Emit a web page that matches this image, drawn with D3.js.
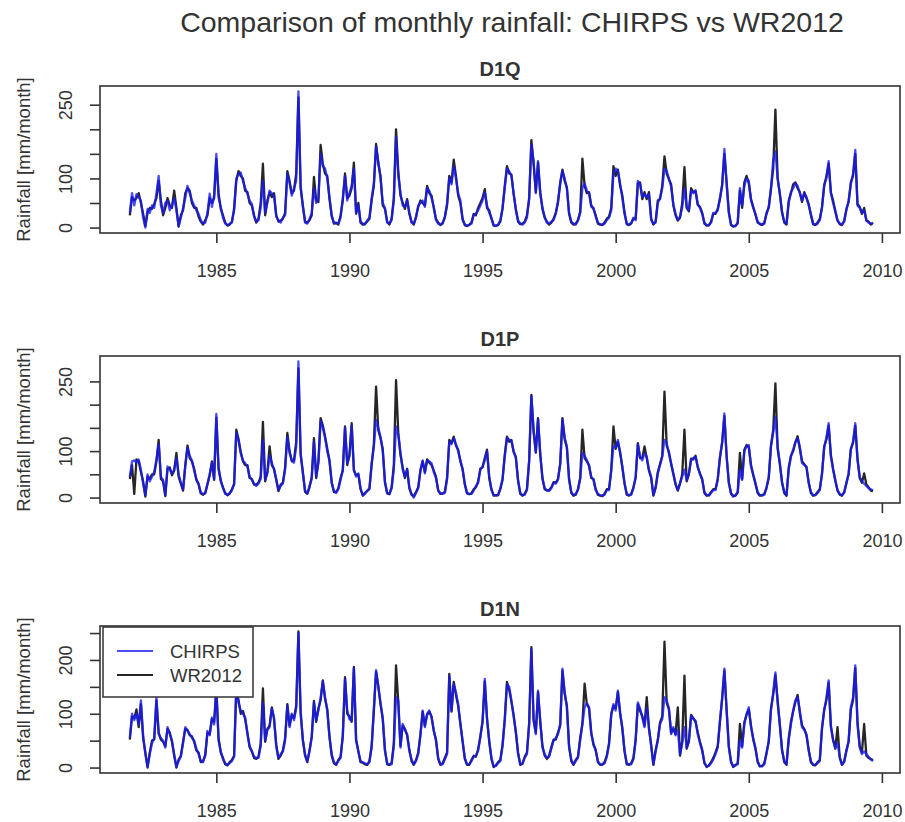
<!DOCTYPE html>
<html>
<head>
<meta charset="utf-8">
<script src="https://cdn.jsdelivr.net/npm/d3@7"></script>
<style>
  body { margin: 0; background: #fff; }
  svg { display: block; }
  text { font-family: "Liberation Sans", Arial, Helvetica, sans-serif; fill: #333; }
</style>
</head>
<body>
<svg id="chart" width="905" height="822"></svg>
<script>
// Monthly series, hydrological years Oct..Sep, Oct 1981 to Sep 2009 (one row per year)
const firstMonth = 1981 + 9 / 12;
const panelNames = ["D1Q", "D1P", "D1N"];
const seriesNames = ["CHIRPS", "WR2012"];
const xTickYears = [1985, 1990, 1995, 2000, 2005, 2010];
const yTickValues = [0, 50, 100, 150, 200, 250];
const yTickLabels = [[0, 100, 250], [0, 100, 250], [0, 100, 200]];

const d1qChirps = [
  30, 70, 45, 68, 62, 55, 20, 0, 38, 30, 45, 40,
  70, 105, 45, 30, 50, 55, 35, 45, 60, 35, 3, 20,
  40, 60, 85, 70, 55, 45, 35, 28, 15, 8, 10, 30,
  69, 42, 65, 150, 60, 42, 20, 8, 5, 8, 10, 40,
  100, 110, 112, 95, 80, 70, 55, 48, 22, 12, 15, 40,
  95, 30, 50, 75, 70, 65, 22, 15, 10, 20, 25, 110,
  90, 65, 80, 95, 277, 85, 42, 10, 8, 18, 30, 80,
  50, 60, 150, 125, 120, 100, 62, 22, 10, 8, 8, 20,
  60, 105, 55, 70, 85, 120, 30, 45, 12, 8, 6, 15,
  20, 60, 90, 165, 135, 100, 50, 40, 10, 8, 15, 55,
  185, 105, 70, 45, 42, 55, 30, 10, 8, 20, 45, 50,
  55, 42, 80, 75, 60, 42, 15, 8, 6, 10, 20, 50,
  100, 88, 125, 100, 70, 55, 15, 6, 4, 5, 8, 25,
  28, 35, 45, 55, 72, 45, 30, 20, 5, 3, 6, 15,
  40, 80, 120, 115, 105, 70, 35, 15, 8, 6, 10, 20,
  60, 170, 135, 70, 135, 68, 40, 22, 10, 8, 12, 15,
  28, 55, 88, 115, 100, 80, 30, 12, 8, 6, 14, 30,
  80, 90, 75, 70, 42, 40, 22, 10, 7, 6, 8, 15,
  20, 35, 110, 120, 115, 90, 60, 28, 8, 6, 10, 20,
  15, 95, 88, 62, 68, 62, 68, 15, 8, 10, 50, 60,
  80, 120, 115, 100, 83, 47, 28, 15, 22, 40, 80, 42,
  35, 75, 70, 76, 48, 40, 28, 10, 5, 4, 10, 30,
  30, 35, 60, 85, 160, 90, 30, 6, 3, 4, 8, 80,
  45, 85, 100, 95, 55, 40, 28, 12, 8, 6, 8, 30,
  40, 80, 137, 155, 100, 69, 29, 12, 8, 50, 72, 80,
  90, 85, 70, 55, 70, 62, 45, 28, 8, 6, 8, 15,
  40, 88, 100, 135, 70, 50, 35, 15, 8, 6, 12, 35,
  55, 88, 110, 158, 45, 40, 30, 35, 15, 10, 8, 8
];
const d1qWr2012 = [
  25, 62, 55, 60, 70, 50, 28, 3, 30, 40, 38, 48,
  60, 95, 55, 25, 40, 60, 45, 40, 75, 40, 2, 25,
  35, 70, 80, 75, 50, 40, 40, 22, 12, 6, 15, 25,
  60, 50, 60, 140, 70, 38, 25, 10, 4, 6, 12, 35,
  95, 115, 105, 100, 75, 72, 50, 45, 25, 10, 18, 50,
  130, 25, 55, 72, 62, 70, 25, 12, 14, 18, 30, 115,
  95, 70, 75, 110, 265, 80, 45, 12, 10, 15, 25, 103,
  55, 52, 168, 130, 110, 105, 58, 25, 8, 10, 6, 25,
  55, 110, 60, 65, 80, 132, 28, 50, 10, 6, 8, 12,
  18, 55, 85, 170, 130, 105, 45, 38, 12, 6, 18, 60,
  200, 115, 65, 50, 38, 58, 28, 12, 6, 22, 42, 55,
  50, 45, 85, 70, 65, 40, 18, 10, 5, 8, 22, 45,
  105, 92, 138, 105, 65, 50, 18, 5, 3, 6, 10, 28,
  25, 40, 50, 60, 78, 40, 35, 18, 4, 4, 5, 12,
  38, 85, 125, 110, 108, 68, 38, 12, 7, 8, 12, 25,
  58, 178, 130, 72, 132, 72, 38, 20, 12, 6, 10, 18,
  30, 50, 92, 118, 95, 82, 28, 10, 6, 8, 15, 32,
  140, 85, 70, 72, 45, 38, 25, 8, 6, 5, 10, 18,
  22, 40, 125, 105, 118, 85, 65, 30, 7, 5, 8, 18,
  18, 90, 92, 58, 72, 58, 72, 18, 6, 12, 55, 58,
  85, 145, 110, 98, 88, 45, 25, 14, 20, 50, 123, 40,
  33, 80, 72, 74, 46, 42, 30, 8, 4, 5, 12, 28,
  28, 38, 58, 88, 150, 92, 32, 5, 2, 3, 10, 75,
  40, 92, 105, 90, 58, 42, 26, 10, 7, 5, 10, 28,
  42, 78, 120, 240, 100, 68, 32, 10, 6, 55, 70, 88,
  92, 80, 72, 52, 72, 60, 48, 25, 7, 5, 10, 18,
  42, 85, 105, 130, 72, 55, 32, 14, 7, 5, 14, 38,
  52, 92, 105, 150, 48, 42, 28, 40, 14, 12, 6, 10
];

const d1pChirps = [
  45, 78, 80, 75, 82, 60, 30, 5, 50, 35, 45, 55,
  82, 115, 45, 38, 5, 67, 60, 52, 60, 85, 50, 32,
  18, 67, 108, 90, 80, 58, 40, 30, 10, 8, 9, 30,
  50, 74, 40, 180, 60, 38, 20, 8, 6, 10, 15, 30,
  140, 122, 95, 80, 74, 67, 45, 38, 30, 25, 30, 40,
  124, 38, 52, 90, 75, 60, 40, 16, 25, 30, 60, 130,
  96, 81, 75, 110, 293, 96, 52, 15, 9, 25, 40, 120,
  45, 74, 165, 150, 128, 100, 81, 31, 14, 10, 18, 38,
  60, 150, 74, 88, 155, 60, 45, 52, 20, 5, 8, 15,
  20, 74, 110, 167, 150, 131, 100, 35, 10, 8, 20, 60,
  153, 135, 96, 60, 45, 60, 22, 8, 0, 10, 20, 60,
  80, 52, 80, 78, 74, 55, 42, 16, 9, 8, 10, 40,
  120, 115, 128, 115, 100, 80, 60, 30, 10, 8, 8, 15,
  25, 31, 60, 67, 80, 100, 45, 16, 5, 4, 6, 20,
  40, 88, 128, 125, 122, 100, 85, 38, 10, 5, 6, 16,
  80, 218, 146, 96, 168, 96, 40, 20, 16, 14, 20, 31,
  30, 38, 74, 168, 130, 110, 38, 12, 5, 8, 16, 40,
  96, 90, 81, 67, 45, 38, 16, 8, 5, 4, 6, 16,
  16, 60, 110, 108, 124, 95, 67, 31, 8, 5, 6, 20,
  45, 115, 88, 80, 95, 88, 60, 45, 5, 20, 52, 70,
  88, 124, 117, 95, 74, 52, 30, 16, 31, 45, 60, 38,
  52, 81, 85, 88, 67, 50, 38, 12, 5, 4, 10, 16,
  16, 38, 88, 120, 181, 88, 31, 10, 2, 5, 10, 60,
  38, 100, 110, 113, 67, 50, 31, 12, 5, 4, 6, 20,
  45, 110, 140, 174, 110, 74, 31, 12, 5, 60, 88, 103,
  120, 128, 110, 74, 70, 67, 31, 12, 5, 6, 10, 16,
  50, 108, 130, 160, 88, 60, 38, 16, 8, 5, 10, 30,
  52, 103, 120, 160, 80, 45, 35, 30, 25, 20, 18, 15
];
const d1pWr2012 = [
  40, 70, 8, 82, 78, 55, 35, 2, 45, 40, 50, 50,
  78, 124, 40, 35, 3, 62, 65, 48, 58, 96, 45, 30,
  15, 70, 112, 85, 78, 62, 38, 28, 9, 6, 10, 28,
  48, 78, 38, 172, 65, 35, 22, 10, 5, 8, 18, 28,
  146, 126, 98, 78, 70, 70, 42, 40, 28, 28, 32, 45,
  163, 35, 55, 110, 70, 62, 38, 14, 28, 32, 65, 139,
  100, 78, 80, 120, 278, 92, 55, 12, 8, 22, 45, 128,
  42, 78, 171, 155, 132, 105, 78, 33, 12, 12, 20, 42,
  58, 153, 70, 92, 160, 58, 48, 50, 18, 4, 10, 14,
  18, 70, 115, 239, 145, 128, 105, 32, 9, 7, 22, 70,
  253, 140, 92, 65, 42, 62, 20, 6, 3, 12, 22, 58,
  78, 55, 82, 75, 70, 58, 45, 15, 8, 9, 12, 42,
  124, 117, 131, 112, 103, 78, 62, 28, 9, 7, 9, 18,
  22, 35, 62, 65, 85, 103, 42, 18, 4, 5, 5, 18,
  38, 92, 131, 120, 124, 98, 88, 36, 8, 4, 8, 18,
  78, 221, 142, 98, 171, 92, 42, 18, 15, 16, 22, 33,
  32, 40, 72, 171, 125, 108, 40, 10, 4, 6, 18, 42,
  146, 85, 78, 70, 42, 40, 18, 6, 4, 3, 8, 18,
  18, 58, 153, 105, 120, 98, 65, 30, 6, 4, 8, 22,
  42, 117, 85, 85, 110, 85, 58, 42, 4, 22, 55, 72,
  90, 228, 112, 98, 72, 50, 28, 15, 30, 50, 146, 35,
  50, 84, 82, 90, 65, 52, 40, 10, 4, 5, 12, 18,
  18, 40, 85, 118, 175, 90, 33, 8, 3, 4, 12, 96,
  40, 103, 113, 108, 70, 48, 30, 10, 4, 5, 8, 22,
  42, 112, 145, 246, 105, 72, 33, 10, 4, 65, 90, 100,
  118, 132, 105, 78, 72, 65, 33, 10, 4, 5, 12, 18,
  52, 110, 125, 155, 92, 62, 36, 15, 6, 4, 12, 32,
  50, 105, 118, 155, 85, 42, 32, 52, 28, 22, 15, 14
];

const d1nChirps = [
  56, 100, 88, 100, 80, 125, 60, 25, 2, 25, 45, 55,
  130, 62, 55, 50, 37, 75, 62, 50, 25, 2, 12, 20,
  45, 75, 68, 62, 55, 50, 35, 25, 12, 10, 25, 68,
  60, 93, 80, 150, 50, 30, 15, 8, 5, 8, 12, 20,
  150, 120, 106, 100, 93, 62, 40, 31, 20, 18, 18, 40,
  120, 50, 70, 75, 110, 93, 40, 18, 25, 30, 50, 115,
  75, 100, 88, 110, 250, 106, 50, 25, 12, 30, 56, 120,
  87, 106, 130, 160, 131, 106, 56, 25, 10, 6, 12, 18,
  60, 165, 106, 90, 87, 185, 50, 31, 12, 10, 8, 6,
  10, 37, 110, 181, 150, 120, 93, 31, 8, 6, 6, 40,
  131, 125, 37, 81, 70, 62, 31, 15, 6, 12, 25, 60,
  106, 75, 100, 106, 93, 70, 50, 18, 6, 6, 15, 25,
  170, 106, 155, 140, 118, 80, 50, 18, 6, 6, 12, 20,
  22, 31, 56, 87, 165, 90, 50, 18, 2, 3, 8, 12,
  40, 87, 155, 150, 125, 95, 68, 25, 6, 8, 18, 25,
  80, 220, 87, 62, 143, 87, 37, 25, 18, 20, 35, 50,
  55, 62, 81, 184, 140, 112, 37, 15, 6, 12, 18, 50,
  80, 112, 120, 112, 62, 45, 31, 12, 6, 5, 8, 20,
  43, 100, 118, 106, 143, 100, 75, 31, 8, 6, 6, 15,
  50, 121, 110, 93, 75, 110, 75, 40, 6, 30, 50, 81,
  90, 131, 125, 110, 62, 75, 60, 70, 25, 45, 75, 37,
  50, 96, 90, 87, 62, 45, 31, 10, 2, 3, 8, 15,
  25, 37, 87, 130, 184, 106, 37, 12, 2, 4, 6, 50,
  37, 81, 100, 112, 75, 55, 37, 12, 3, 2, 6, 25,
  50, 106, 140, 177, 120, 81, 31, 12, 6, 50, 80, 106,
  125, 131, 106, 75, 70, 62, 31, 12, 6, 5, 8, 12,
  75, 106, 130, 162, 75, 50, 37, 45, 20, 6, 10, 30,
  50, 112, 130, 190, 80, 37, 25, 30, 25, 20, 15, 12
];
const d1nWr2012 = [
  52, 95, 92, 108, 75, 118, 55, 28, 0, 28, 50, 52,
  125, 65, 52, 48, 40, 72, 65, 48, 22, 0, 15, 22,
  48, 72, 70, 60, 58, 48, 32, 28, 10, 12, 22, 65,
  62, 90, 85, 145, 55, 28, 18, 6, 4, 10, 14, 22,
  145, 125, 100, 105, 90, 65, 38, 30, 18, 16, 20, 45,
  147, 48, 72, 78, 112, 90, 42, 16, 22, 32, 55, 118,
  78, 98, 92, 115, 253, 100, 52, 22, 10, 32, 58, 124,
  85, 110, 125, 162, 128, 108, 58, 22, 8, 5, 14, 20,
  58, 168, 100, 95, 85, 187, 52, 30, 10, 9, 6, 5,
  12, 40, 105, 178, 152, 118, 90, 33, 6, 5, 8, 45,
  190, 122, 40, 78, 72, 60, 33, 12, 5, 14, 28, 62,
  104, 78, 98, 104, 95, 68, 52, 16, 5, 8, 18, 28,
  174, 104, 159, 135, 115, 82, 48, 16, 5, 5, 14, 22,
  20, 34, 58, 85, 160, 92, 48, 16, 1, 4, 10, 14,
  42, 90, 159, 145, 122, 98, 65, 28, 5, 7, 20, 28,
  82, 224, 90, 65, 140, 85, 40, 22, 16, 22, 38, 52,
  52, 65, 78, 180, 138, 115, 40, 12, 5, 14, 20, 55,
  82, 156, 118, 110, 65, 42, 33, 10, 5, 6, 10, 22,
  45, 98, 115, 110, 140, 102, 72, 30, 6, 5, 8, 18,
  52, 118, 105, 96, 78, 131, 72, 42, 5, 32, 52, 84,
  95, 234, 120, 108, 65, 72, 62, 112, 22, 50, 171, 35,
  48, 98, 92, 85, 65, 48, 33, 8, 1, 4, 10, 18,
  28, 40, 85, 128, 180, 108, 40, 10, 1, 5, 8, 81,
  40, 84, 98, 108, 78, 52, 35, 10, 2, 3, 8, 28,
  48, 110, 135, 172, 125, 78, 33, 10, 5, 55, 85, 104,
  122, 135, 102, 78, 72, 60, 33, 10, 5, 4, 10, 14,
  72, 108, 125, 158, 78, 52, 35, 75, 18, 5, 12, 32,
  48, 108, 125, 185, 85, 40, 28, 81, 22, 18, 16, 14
];

const panelSeries = [
  { chirps: d1qChirps, wr: d1qWr2012 },
  { chirps: d1pChirps, wr: d1pWr2012 },
  { chirps: d1nChirps, wr: d1nWr2012 }
];

// ---- layout ----
const svg = d3.select("#chart");
svg.append("rect").attr("width", 905).attr("height", 822).attr("fill", "#fff");

const plotLeft = 100, plotRight = 900;
const plotTops = [86, 356, 626];
const plotHeight = 147;
const inkColor = "#333";
const chirpsColor = "#1a1aff";
const chirpsOpacity = 0.78;
const wrColor = "#000000";
const wrOpacity = 0.85;
const seriesWidth = 2.3;

const x = d3.scaleLinear().domain([1980.63, 2010.68]).range([plotLeft, plotRight]);
const monthTime = i => firstMonth + i / 12;

svg.append("text")
  .attr("x", 512).attr("y", 32)
  .attr("text-anchor", "middle")
  .style("font-size", "28.5px")
  .text("Comparison of monthly rainfall: CHIRPS vs WR2012");

panelNames.forEach((name, p) => {
  const top = plotTops[p];
  const bottom = top + plotHeight;
  const { chirps, wr } = panelSeries[p];
  const lo = d3.min([d3.min(chirps), d3.min(wr)]);
  const hi = d3.max([d3.max(chirps), d3.max(wr)]);
  const pad = 0.04 * (hi - lo);
  const y = d3.scaleLinear().domain([lo - pad, hi + pad]).range([bottom, top]);

  const g = svg.append("g");

  const line = d3.line().x((d, i) => x(monthTime(i))).y(d => y(d));

  g.append("path").datum(wr)
    .attr("d", line).attr("fill", "none")
    .attr("stroke", wrColor).attr("stroke-opacity", wrOpacity)
    .attr("stroke-width", seriesWidth).attr("stroke-linejoin", "round");
  g.append("path").datum(chirps)
    .attr("d", line).attr("fill", "none")
    .attr("stroke", chirpsColor).attr("stroke-opacity", chirpsOpacity)
    .attr("stroke-width", seriesWidth).attr("stroke-linejoin", "round");

  // frame
  g.append("rect")
    .attr("x", plotLeft).attr("y", top)
    .attr("width", plotRight - plotLeft).attr("height", plotHeight)
    .attr("fill", "none").attr("stroke", inkColor).attr("stroke-width", 1.6);

  // x axis
  g.append("g")
    .attr("transform", `translate(0,${bottom})`)
    .call(d3.axisBottom(x).tickValues(xTickYears).tickSize(10).tickSizeOuter(0).tickFormat(d3.format("d")))
    .call(a => a.select(".domain").remove())
    .call(a => a.selectAll(".tick line").attr("stroke", inkColor).attr("stroke-width", 1.6))
    .call(a => a.selectAll(".tick text")
      .attr("y", 44).attr("dy", null)
      .attr("fill", inkColor)
      .style("font-size", "18px"));

  // y axis
  const shown = yTickLabels[p];
  g.append("g")
    .attr("transform", `translate(${plotLeft},0)`)
    .call(d3.axisLeft(y).tickValues(yTickValues).tickSize(10).tickSizeOuter(0)
      .tickFormat(d => shown.includes(d) ? String(d) : ""))
    .call(a => a.select(".domain").remove())
    .call(a => a.selectAll(".tick line").attr("stroke", inkColor).attr("stroke-width", 1.6))
    .call(a => a.selectAll(".tick text")
      .attr("x", null).attr("dy", null)
      .attr("text-anchor", "middle")
      .attr("transform", "translate(-28,0) rotate(-90)")
      .attr("fill", inkColor)
      .style("font-size", "18px"));

  // axis title
  svg.append("text")
    .attr("transform", `translate(30,${top + plotHeight / 2}) rotate(-90)`)
    .attr("text-anchor", "middle")
    .style("font-size", "18.5px")
    .text("Rainfall [mm/month]");

  // panel title
  svg.append("text")
    .attr("x", (plotLeft + plotRight) / 2).attr("y", top - 10)
    .attr("text-anchor", "middle")
    .style("font-size", "20px").style("font-weight", "bold")
    .attr("fill", "#222")
    .text(name);

  // legend in the last panel
  if (p === panelNames.length - 1) {
    const lg = svg.append("g");
    lg.append("rect")
      .attr("x", 103).attr("y", top + 1)
      .attr("width", 150).attr("height", 70)
      .attr("fill", "#fff").attr("stroke", inkColor).attr("stroke-width", 1.5);
    const legendItems = [
      { label: seriesNames[0], color: chirpsColor, opacity: chirpsOpacity },
      { label: seriesNames[1], color: wrColor, opacity: wrOpacity }
    ];
    legendItems.forEach((it, k) => {
      const ly = top + 25 + k * 24;
      lg.append("line")
        .attr("x1", 117).attr("x2", 153).attr("y1", ly).attr("y2", ly)
        .attr("stroke", it.color).attr("stroke-opacity", it.opacity).attr("stroke-width", 2);
      lg.append("text")
        .attr("x", 170).attr("y", ly + 7)
        .style("font-size", "18.5px")
        .text(it.label);
    });
  }
});
</script>
</body>
</html>
